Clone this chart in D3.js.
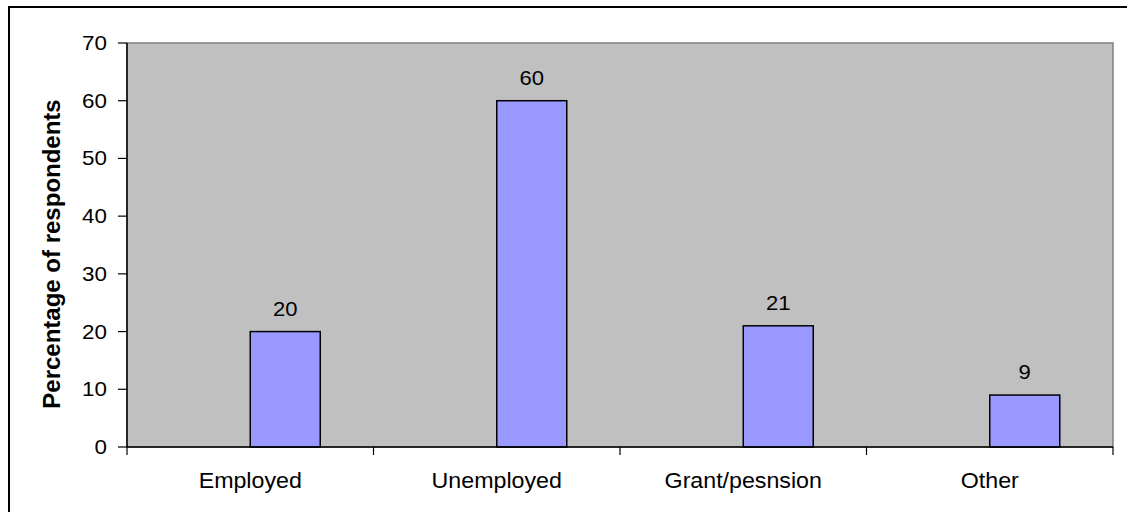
<!DOCTYPE html>
<html>
<head>
<meta charset="utf-8">
<script src="https://cdn.jsdelivr.net/npm/d3@7"></script>
<style>
  html, body { margin: 0; padding: 0; background: #fff; }
  svg { display: block; font-family: "Liberation Sans", Arial, sans-serif; }
</style>
</head>
<body>
<svg id="chart" width="1127" height="512"></svg>
<script>
// Source of income of respondents (%)
const categories = ["Employed", "Unemployed", "Grant/pesnsion", "Other"];
const values = [20, 60, 21, 9];
const yTicks = [0, 10, 20, 30, 40, 50, 60, 70];
// Each category holds two series slots; only the second one carries values
const seriesSlots = ["blank", "percent"];

const svg = d3.select("#chart");
const W = 1127, H = 512;
const plot = { left: 127, top: 43, right: 1113, bottom: 447 };

// outer chart frame (right/bottom edges run past the page)
svg.append("rect")
  .attr("x", 9).attr("y", 7)
  .attr("width", W + 20).attr("height", H + 20)
  .attr("fill", "#fff").attr("stroke", "#000").attr("stroke-width", 2);

const x = d3.scaleBand().domain(categories)
  .range([plot.left, plot.right]).paddingInner(0).paddingOuter(0);
const barW = 70;
// two side-by-side slots centred in each category band
const xSlot = d3.scaleBand().domain(seriesSlots)
  .range([x.bandwidth() / 2 - barW, x.bandwidth() / 2 + barW]).padding(0);
const y = d3.scaleLinear().domain([0, 70]).range([plot.bottom, plot.top]);

// text helper: slightly widened glyphs
function wideText(sel, sx) {
  return sel.attr("transform", function (d, i) {
    const px = +this.getAttribute("data-x"), py = +this.getAttribute("data-y");
    return `translate(${px},${py}) scale(${sx},1)`;
  });
}

// plot background
svg.append("rect")
  .attr("x", plot.left).attr("y", plot.top)
  .attr("width", plot.right - plot.left).attr("height", plot.bottom - plot.top)
  .attr("fill", "#c0c0c0").attr("stroke", "#808080").attr("stroke-width", 1.5);

// bars
svg.append("g").selectAll("rect").data(values).join("rect")
  .attr("x", (d, i) => x(categories[i]) + xSlot("percent"))
  .attr("y", d => y(d))
  .attr("width", xSlot.bandwidth())
  .attr("height", d => y(0) - y(d))
  .attr("fill", "#9999ff").attr("stroke", "#000").attr("stroke-width", 1.5);

// value labels
svg.append("g").selectAll("text").data(values).join("text")
  .attr("data-x", (d, i) => x(categories[i]) + xSlot("percent") + xSlot.bandwidth() / 2)
  .attr("data-y", d => y(d) - 16)
  .attr("text-anchor", "middle")
  .attr("font-size", 21).attr("fill", "#000")
  .text(d => d)
  .call(wideText, 1.05);

// y axis line and ticks
const yAxis = svg.append("g");
yAxis.append("line")
  .attr("x1", plot.left).attr("x2", plot.left)
  .attr("y1", y(70)).attr("y2", y(0))
  .attr("stroke", "#000").attr("stroke-width", 1.5);
yAxis.selectAll("line.tick").data(yTicks).join("line")
  .attr("class", "tick")
  .attr("x1", plot.left - 9).attr("x2", plot.left)
  .attr("y1", d => y(d)).attr("y2", d => y(d))
  .attr("stroke", "#000").attr("stroke-width", 1.2);
yAxis.selectAll("text").data(yTicks).join("text")
  .attr("data-x", plot.left - 20)
  .attr("data-y", d => y(d) + 7)
  .attr("text-anchor", "end")
  .attr("font-size", 20).attr("fill", "#000")
  .text(d => d)
  .call(wideText, 1.12);

// x axis with ticks at category boundaries
const xAxisG = svg.append("g").attr("transform", `translate(0,${plot.bottom})`);
xAxisG.append("line")
  .attr("x1", plot.left).attr("x2", plot.right)
  .attr("stroke", "#000").attr("stroke-width", 1.5);
const boundaries = categories.map(c => x(c)).concat([plot.right]);
xAxisG.selectAll("line.tick").data(boundaries).join("line")
  .attr("class", "tick")
  .attr("x1", d => d).attr("x2", d => d)
  .attr("y1", 0).attr("y2", 8)
  .attr("stroke", "#000").attr("stroke-width", 1.2);
xAxisG.selectAll("text").data(categories).join("text")
  .attr("data-x", d => x(d) + x.bandwidth() / 2)
  .attr("data-y", 41)
  .attr("text-anchor", "middle")
  .attr("font-size", 21.5).attr("fill", "#000")
  .text(d => d)
  .call(wideText, 1.08);

// y axis title
svg.append("text")
  .attr("transform", `translate(60,254) rotate(-90)`)
  .attr("text-anchor", "middle")
  .attr("font-size", 24).attr("font-weight", "bold").attr("fill", "#000")
  .text("Percentage of respondents");
</script>
</body>
</html>
